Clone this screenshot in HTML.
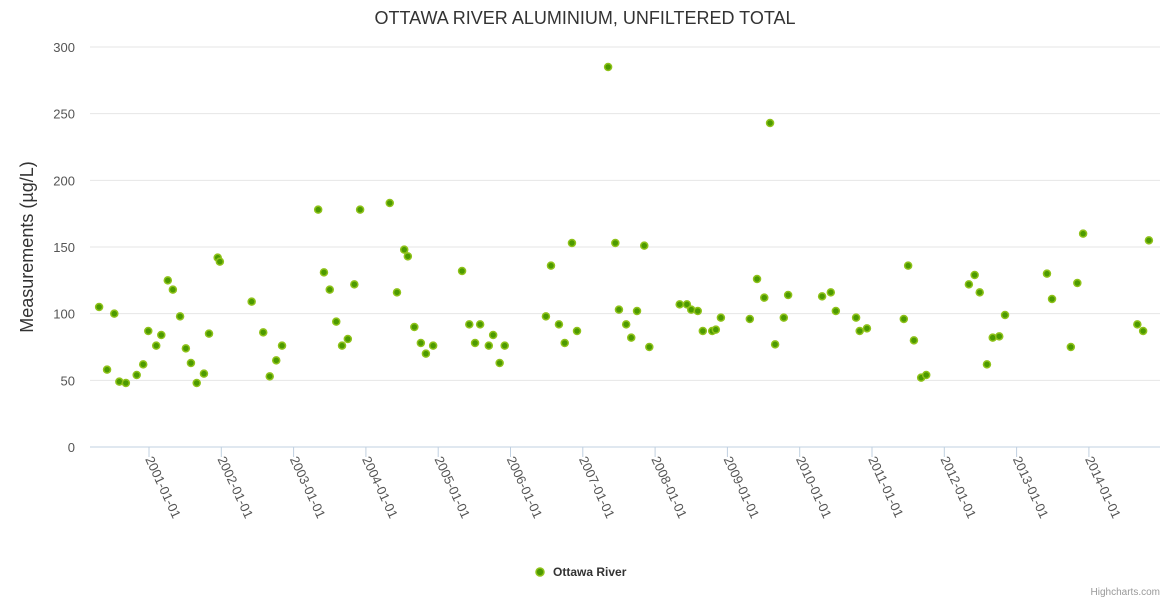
<!DOCTYPE html>
<html><head><meta charset="utf-8"><style>
body{margin:0;background:#fff;}
svg{display:block;font-family:"Liberation Sans","DejaVu Sans",sans-serif;}
</style></head><body>
<svg id="chart" width="1170" height="600" viewBox="0 0 1170 600">
<text x="585" y="24" text-anchor="middle" font-size="18" fill="#333">OTTAWA RIVER ALUMINIUM, UNFILTERED TOTAL</text>
<g id="grid"></g>
<g id="yticks"></g>
<g id="xticks"></g>
<text transform="translate(33,247) rotate(-90)" text-anchor="middle" font-size="18" fill="#333">Measurements (µg/L)</text>
<g id="points"></g>
<g>
<circle cx="540" cy="572" r="4" fill="#4c9a00" stroke="#8fc21a" stroke-width="1.5"/>
<text x="553" y="576" font-size="12" font-weight="bold" fill="#333">Ottawa River</text>
</g>
<text x="1160" y="595" text-anchor="end" font-size="10" fill="#999">Highcharts.com</text>
</svg>
<script>
const yTicks=[0,50,100,150,200,250,300];
const xTickYears=[2001,2002,2003,2004,2005,2006,2007,2008,2009,2010,2011,2012,2013,2014];
const xTickLabels=["2001-01-01","2002-01-01","2003-01-01","2004-01-01","2005-01-01","2006-01-01","2007-01-01","2008-01-01","2009-01-01","2010-01-01","2011-01-01","2012-01-01","2013-01-01","2014-01-01"];
const dates=[2000.31,2000.42,2000.52,2000.59,2000.68,2000.83,2000.92,2000.99,2001.10,2001.17,2001.26,2001.33,2001.43,2001.51,2001.58,2001.66,2001.76,2001.83,2001.95,2001.98,2002.42,2002.58,2002.67,2002.76,2002.84,2003.34,2003.42,2003.50,2003.59,2003.67,2003.75,2003.84,2003.92,2004.33,2004.43,2004.53,2004.58,2004.67,2004.76,2004.83,2004.93,2005.33,2005.43,2005.51,2005.58,2005.70,2005.76,2005.85,2005.92,2006.49,2006.56,2006.67,2006.75,2006.85,2006.92,2007.35,2007.45,2007.50,2007.60,2007.67,2007.75,2007.85,2007.92,2008.34,2008.44,2008.50,2008.59,2008.66,2008.79,2008.84,2008.91,2009.31,2009.41,2009.51,2009.59,2009.66,2009.78,2009.84,2010.31,2010.43,2010.50,2010.78,2010.83,2010.93,2011.44,2011.50,2011.58,2011.68,2011.75,2012.34,2012.42,2012.49,2012.59,2012.67,2012.76,2012.84,2013.42,2013.49,2013.75,2013.84,2013.92,2014.67,2014.75,2014.83];
const values=[105,58,100,49,48,54,62,87,76,84,125,118,98,74,63,48,55,85,142,139,109,86,53,65,76,178,131,118,94,76,81,122,178,183,116,148,143,90,78,70,76,132,92,78,92,76,84,63,76,98,136,92,78,153,87,285,153,103,92,82,102,151,75,107,107,103,102,87,87,88,97,96,126,112,243,77,97,114,113,116,102,97,87,89,96,136,80,52,54,122,129,116,62,82,83,99,130,111,75,123,160,92,87,155];
const NS="http://www.w3.org/2000/svg";
const plotL=90,plotR=1160,plotT=47,plotB=447;
function yScale(v){return plotB-(v/300)*(plotB-plotT);}
function xScale(yr){return 149+(yr-2001)*72.3;}
const grid=document.getElementById('grid'),yt=document.getElementById('yticks'),xt=document.getElementById('xticks'),pts=document.getElementById('points');
yTicks.forEach(t=>{
  const l=document.createElementNS(NS,'line');
  l.setAttribute('x1',plotL);l.setAttribute('x2',plotR);
  l.setAttribute('y1',yScale(t));l.setAttribute('y2',yScale(t));
  l.setAttribute('stroke',t===0?'#c0d0e0':'#e6e6e6');l.setAttribute('stroke-width',1);
  
  
  grid.appendChild(l);
  const tx=document.createElementNS(NS,'text');
  tx.setAttribute('x',75);tx.setAttribute('y',yScale(t)+5);
  tx.setAttribute('text-anchor','end');tx.setAttribute('font-size','13');tx.setAttribute('fill','#555');
  tx.textContent=t;
  
  
  yt.appendChild(tx);
});
xTickYears.forEach((y,i)=>{
  const x=xScale(y);
  const l=document.createElementNS(NS,'line');
  l.setAttribute('x1',x);l.setAttribute('x2',x);l.setAttribute('y1',plotB);l.setAttribute('y2',plotB+10);
  l.setAttribute('stroke','#c0d0e0');
  
  
  xt.appendChild(l);
  const tx=document.createElementNS(NS,'text');
  tx.setAttribute('transform','translate('+(x-4)+','+(plotB+12)+') rotate(65)');
  tx.setAttribute('font-size','13');tx.setAttribute('fill','#555');
  tx.textContent=xTickLabels[i];
  
  
  xt.appendChild(tx);
});
dates.forEach((d,i)=>{
  const c=document.createElementNS(NS,'circle');
  c.setAttribute('cx',xScale(d));c.setAttribute('cy',yScale(values[i]));c.setAttribute('r',3.5);
  c.setAttribute('fill','#4c9a00');c.setAttribute('stroke','#8fc21a');c.setAttribute('stroke-width',1.5);
  
  
  pts.appendChild(c);
});
</script>
</body></html>
